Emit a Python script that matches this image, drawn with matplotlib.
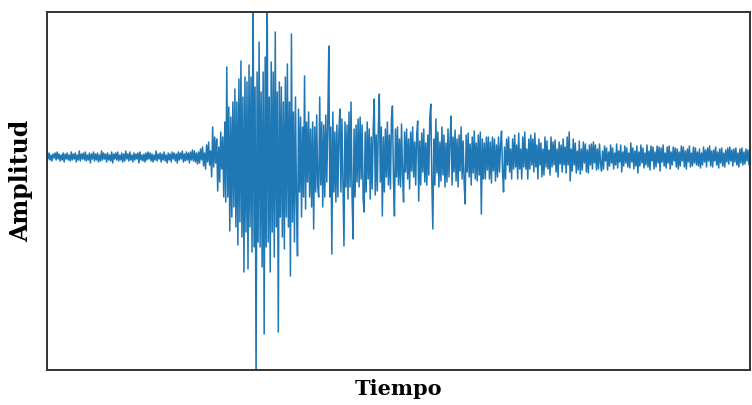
import numpy as np
import matplotlib
matplotlib.use("Agg")
import matplotlib.pyplot as plt

# Seismogram amplitudes (arbitrary units, positive up)
pre_event = [3, -2, 4, -3, 2, -4, 3, -1, 4, -3, 5, -2, 3, -4, 2, -3, 4, -5, 3, -2,
             4, -3, 2, -4, 5, -3, 3, -2, 4, -5, 2, -3, 6, -4, 3, -2, 4, -3, 5, -4,
             2, -3, 4, -6, 3, -2, 5, -4, 3, -3, 4, -5, 2, -4, 6, -3, 4, -2, 3, -5,
             4, -3, 2, -4, 5, -6, 3, -2, 4, -3, 5, -4, 2, -3, 4, -5, 3, -4, 6, -2,
             3, -4, 5, -3, 2, -5, 4, -3, 3, -2, 4, -6, 5, -3, 2, -4, 3, -5, 4, -3,
             5, -2, 4, -4, 3, -5, 2, -3, 6, -4, 3, -2, 4, -5, 3, -3, 5, -4, 2, -6,
             4, -3, 3, -5, 5, -2, 4, -4, 3, -6, 5, -3, 4, -2, 6, -5, 3, -4, 5, -3,
             4, -6, 5, -3, 7, -4, 6, -5, 4, -7, 5, -6]
onset = [8, -3, 10, -9, 4, -12, 12, -5, 15, -8, 6, -20, 30, -10, 20, -6, 18, -34,
         10, -25, 25, -12, 20, -40]
main_burst = [35, -45, 90, -40, 50, -74, 40, -60, 55, -50, 68, -70, 55, -88, 78, -65, 96, -80, 60, -115,
              80, -75, 75, -112, 92, -70, 80, -95, 170, -90, 70, -230, 85, -85, 115, -90, 65, -110, 85, -177,
              100, -90, 160, -85, 60, -115, 95, -75, 85, -100, 125, -70, 65, -175, 75, -60, 70, -80, 55, -92,
              80, -60, 93, -70, 55, -119, 123, -65, 45, -85, 60, -45, -99]
decay_1 = [48, -35, 40, -60, 30, -40, 81, -52, 35, -25, 45, -40, 28, -50, 35, -72, 30, -35, 42, -30,
           -40, 60, -28, 35, -50, 32, -40, 42, -25, 35, 111, -40, 30, -97, 45, -35, 25, -45, 32, -40,
           25, 48, -35, 38, -25, -89, 35, -30, 32, -42, 45, -30, 55, -38, -82, 28, -40, 32, -25, 38,
           -30, 40, -22, 32, -42, -55, 25, -35, 35, -22, 28, -42, 20, -32, 30, 58, -38, 22, -34, 28,
           63, -25, 30, -59, 20, -35, 28, -20, 35, -28, 22, -32, 38, 51, -22, -59, 28, -20, 30, -28]
decay_2 = [18, -30, 33, -18, -45, 25, -15, 28, -22, 18, -32, 25, -14, 30, -20, 15, -28, 22, 36, -44,
           16, -28, 24, -15, 28, -25, 14, -28, 22, -18, 40, 53, -25, -72, 18, -28, 38, -16, 25, -30,
           15, -24, 30, -18, 22, -30, 14, -25, 28, -20, 16, 41, -28, 20, -15, 27, -24, 18, -30, 22,
           -14, 30, -22, 16, -26, -47, 22, -15, 24, -20, 13, -28, 20, -16, 26, -22, 14, -24, 22, -18,
           25, -57, 18, -22, 14, -22, 20, -13, 20, -22, 15, -26, 20, -14, 18, -24, 12, -20, 20, -15]
coda = [12, 26, -15, -35, 10, -22, 18, -8, 20, -15, 8, -22, 18, -12, 22, -10, 12, -22, 24, -12,
        8, -22, 20, -10, 25, -12, 8, -22, 18, -12, 22, -8, 18, -15, 24, -10, 12, -22, 18, -8,
        14, -20, 8, -18, 20, -10, 16, -12, 7, -18, 20, -10, 15, -8, 17, -15, 8, -20, 15, -7,
        12, -15, 18, -8, 10, -16, 20, -8, 25, -24, 8, -14, 18, -8, 14, -16, 6, -13, 16, -17,
        8, -13, 15, -6, 13, -15, 7, -16, 12, -8, 13, -12, 15, -6, 12, -13, 8, -12, 13, -6]
tail = [-14, 6, -12, 11, -4, 9, -13, 5, -9, 12, -6, 9, -12, 4, -8, 13, -11, 6, -5, 12,
        -15, 5, -9, 11, -6, 9, -10, 4, -11, 14, -5, 9, -12, 6, -9, 11, -16, 5, -9, 12,
        -6, 9, -11, 4, -8, 12, -10, 6, -13, 11, -4, 10, -12, 5, -10, 11, -6, 10, -14, 9,
        -5, 12, -9, 4, -11, 10, -6, 11, -12, 5, -8, 10, -4, 9, -10, 8, -12, 5, -9, 11,
        -4, 10, -10, 6, -12, 8, -5, 11, -10, 4, -9, 10, -6, 9, -8, 5, -9, 8, -11, 4,
        -8, 10, -5, 7, -10, 9, -4, 11, -9, 6, -10, 7, -4, 10, -8, 5, -11, 8, -6, 9,
        -9, 4, -10, 7, -5, 9, -7, 10, -4, 7, -9, 8, -5, 9, -8, 4, -10, 8, -6, 9,
        -8, 5, -7, 8, -4, 7, -8, 6]

x_label = "Tiempo"
y_label = "Amplitud"

amplitude = np.array(pre_event + onset + main_burst + decay_1 + decay_2 + coda + tail, dtype=float)
samples = np.arange(len(amplitude))

fig = plt.figure(figsize=(7.52, 4.06), dpi=100)
ax = fig.add_axes([47 / 752, 1 - 371 / 406, 703 / 752, 358 / 406])
ax.plot(samples, amplitude, color="#1f77b4", linewidth=1.1)
ax.set_xlim(0, len(amplitude) - 1)
ax.set_ylim(-213, 145)
ax.set_xticks([])
ax.set_yticks([])
for s in ax.spines.values():
    s.set_linewidth(1.4)
    s.set_color("#333333")

ax.set_xlabel(x_label, fontfamily="DejaVu Serif", fontweight="bold", fontsize=15, labelpad=6)
ax.set_ylabel(y_label, fontfamily="DejaVu Serif", fontweight="bold", fontsize=17)
ax.yaxis.set_label_coords(-0.02, 0.53)

fig.savefig("out.png", dpi=100)
